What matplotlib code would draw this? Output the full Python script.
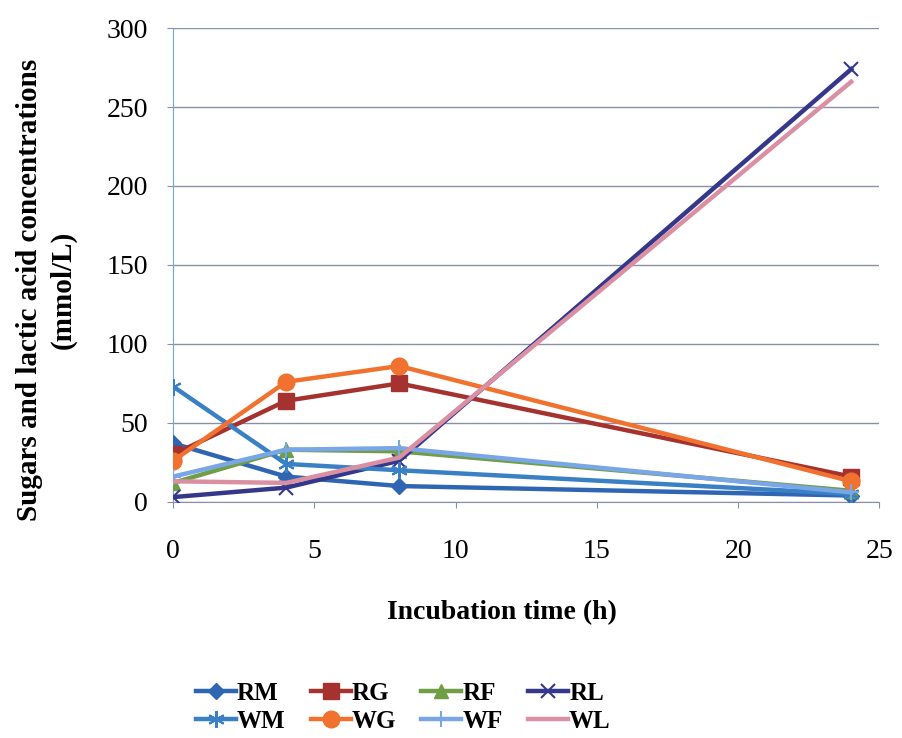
from matplotlib import pyplot as plt

# incubation times (h)
hours = [0, 4, 8, 24]

# concentrations (mmol/L)
rm = [37, 16, 10, 4]
rg = [30, 64, 75, 16]
rf = [12, 33, 32, 7]
rl = [3, 9, 26, 274]
wm = [73, 24, 20, 5]
wg = [26, 76, 86, 13]
wf = [16, 33, 34, 6]
wl = [13, 12, 28, 266]

names = ["RM", "RG", "RF", "RL", "WM", "WG", "WF", "WL"]
series = [rm, rg, rf, rl, wm, wg, wf, wl]
colors = ["#2f66b3", "#a5322e", "#6f9e45", "#35378a",
          "#3a80c4", "#f0722e", "#79a6e6", "#db8fa3"]
markers = ["D", "s", "^", "x", (6, 2, 0), "o", "+", None]
msizes = [8, 11, 10, 10, 12, 12, 12, 0]

plt.rcParams['font.family'] = ['Liberation Serif', 'DejaVu Serif']

fig = plt.figure(figsize=(9.02, 7.38), dpi=100)
ax = fig.add_axes([0.192, 0.32, 0.783, 0.642])

handles = {}
for name, vals, c, m, ms in zip(names, series, colors, markers, msizes):
    line, = ax.plot(hours, vals, color=c, lw=3.2, marker=m, markersize=ms,
                    markeredgewidth=1.5 if m in ("x", "+", (6, 2, 0)) else 1,
                    markeredgecolor=c, label=name, zorder=3)
    handles[name] = line

ax.set_xlim(0, 25)
ax.set_ylim(0, 300)
ax.set_xticks([0, 5, 10, 15, 20, 25])
ax.set_yticks(range(0, 301, 50))
ax.grid(axis='y', color='#8a8fa8', lw=1)
ax.set_axisbelow(True)
for s in ['top', 'right']:
    ax.spines[s].set_visible(False)
ax.spines['left'].set_color('#6fa8dc')
ax.spines['bottom'].set_color('#8a8fa8')
ax.tick_params(axis='x', labelsize=20, length=4, color='#8a8fa8', pad=23)
ax.tick_params(axis='y', labelsize=20, length=4, color='#8a8fa8', pad=14)

ax.set_xlabel("Incubation time (h)", fontsize=20, fontweight='bold', va='center')
ax.xaxis.set_label_coords(0.466, -0.234)
ax.set_ylabel("Sugars and lactic acid concentrations\n(mmol/L)", fontsize=21,
              fontweight='bold', linespacing=1.3, va='center')
ax.yaxis.set_label_coords(-0.18, 0.447)

# legend filled row by row like the original
order = ["RM", "WM", "RG", "WG", "RF", "WF", "RL", "WL"]
fig.legend(handles=[handles[n] for n in order], loc='center',
           bbox_to_anchor=(0.447, 0.042), ncol=4, frameon=False,
           prop={'size': 18, 'weight': 'bold'}, handlelength=1.6,
           handletextpad=0.05, columnspacing=1.0, labelspacing=0.2,
           borderpad=0.1)

fig.savefig("out.png", dpi=100)
